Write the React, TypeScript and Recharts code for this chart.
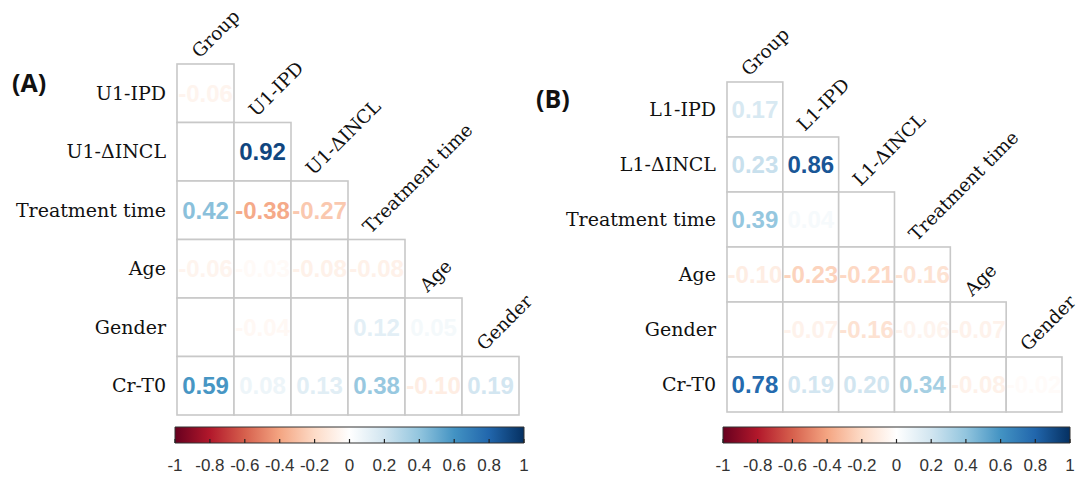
import React from "react";
import {
  ScatterChart,
  Scatter,
  XAxis,
  YAxis,
  BarChart,
  Bar,
} from "recharts";

// panel A
const rowsA = ["U1-IPD", "U1-ΔINCL", "Treatment time", "Age", "Gender", "Cr-T0"];
const colsA = ["Group", "U1-IPD", "U1-ΔINCL", "Treatment time", "Age", "Gender"];
const valuesA: (number | null)[][] = [
  [-0.06],
  [null, 0.92],
  [0.42, -0.38, -0.27],
  [-0.06, -0.03, -0.08, -0.08],
  [null, -0.04, null, 0.12, 0.05],
  [0.59, 0.08, 0.13, 0.38, -0.1, 0.19],
];

// panel B
const rowsB = ["L1-IPD", "L1-ΔINCL", "Treatment time", "Age", "Gender", "Cr-T0"];
const colsB = ["Group", "L1-IPD", "L1-ΔINCL", "Treatment time", "Age", "Gender"];
const valuesB: (number | null)[][] = [
  [0.17],
  [0.23, 0.86],
  [0.39, 0.04, null],
  [-0.1, -0.23, -0.21, -0.16],
  [null, -0.07, -0.16, -0.06, -0.07],
  [0.78, 0.19, 0.2, 0.34, -0.08, -0.02],
];

const legendTicks = [-1, -0.8, -0.6, -0.4, -0.2, 0, 0.2, 0.4, 0.6, 0.8, 1];
const palette = [
  "#67001F", "#B2182B", "#D6604D", "#F4A582", "#FDDBC7", "#FFFFFF",
  "#D1E5F0", "#92C5DE", "#4393C3", "#2166AC", "#053061",
];

const hexToRgb = (h: string) => [
  parseInt(h.slice(1, 3), 16),
  parseInt(h.slice(3, 5), 16),
  parseInt(h.slice(5, 7), 16),
];

const colorFor = (v: number) => {
  const t = ((v + 1) / 2) * (palette.length - 1);
  const i = Math.min(Math.floor(t), palette.length - 2);
  const f = t - i;
  const a = hexToRgb(palette[i]);
  const b = hexToRgb(palette[i + 1]);
  const c = a.map((x, k) => Math.round(x + (b[k] - x) * f));
  return `rgb(${c[0]},${c[1]},${c[2]})`;
};

const toCells = (values: (number | null)[][]) =>
  values.flatMap((row, r) => row.map((v, c) => ({ x: c, y: r, v })));

const serif = "DejaVu Serif";
const sans = "Liberation Sans";

type PanelProps = {
  rows: string[];
  cols: string[];
  values: (number | null)[][];
  width: number;
  height: number;
  top: number;
  left: number;
  right: number;
  bottom: number;
};

const Matrix = ({ rows, cols, values, width, height, top, left, right, bottom }: PanelProps) => {
  const cellW = (width - left - right) / cols.length;
  const cellH = (height - top - bottom) / rows.length;
  const data = toCells(values);

  const cellShape = (props: any) => {
    const { cx, cy, payload } = props;
    return (
      <g>
        <rect
          x={cx - cellW / 2}
          y={cy - cellH / 2}
          width={cellW}
          height={cellH}
          fill="#fff"
          stroke="#c8c8c8"
          strokeWidth={1.6}
        />
        {payload.v !== null && (
          <text
            x={cx}
            y={cy}
            dy="0.36em"
            textAnchor="middle"
            fontFamily={sans}
            fontWeight="bold"
            fontSize={24}
            fill={colorFor(payload.v)}
          >
            {payload.v.toFixed(2)}
          </text>
        )}
      </g>
    );
  };

  const colTick = (props: any) => {
    const { x, y, payload } = props;
    const ty = y + payload.value * cellH - 5;
    const tx = x - 6;
    return (
      <text
        x={tx}
        y={ty}
        transform={`rotate(-45 ${tx} ${ty})`}
        textAnchor="start"
        fontFamily={serif}
        fontSize={18.5}
        fill="#111"
      >
        {cols[payload.value]}
      </text>
    );
  };

  return (
    <ScatterChart
      width={width}
      height={height}
      margin={{ top: 0, right, bottom, left: 0 }}
      style={{ overflow: "visible" }}
    >
      <XAxis
        xAxisId={0}
        type="number"
        dataKey="x"
        orientation="top"
        domain={[-0.5, cols.length - 0.5]}
        ticks={cols.map((_, i) => i)}
        height={top}
        axisLine={false}
        tickLine={false}
        tickSize={0}
        tickMargin={0}
        tick={colTick}
        interval={0}
      />
      <YAxis
        type="number"
        dataKey="y"
        reversed
        domain={[-0.5, rows.length - 0.5]}
        ticks={rows.map((_, i) => i)}
        width={left}
        axisLine={false}
        tickLine={false}
        tickSize={0}
        tickMargin={11}
        interval={0}
        tickFormatter={(i: number) => rows[i]}
        tick={{ fontFamily: serif, fontSize: 19, fill: "#111" }}
      />
      <Scatter data={data} shape={cellShape} isAnimationActive={false} />
    </ScatterChart>
  );
};

const ColorBar = ({ id, width }: { id: string; width: number }) => {
  const tick = (props: any) => {
    const { x, y, payload } = props;
    return (
      <g>
        <line x1={x} x2={x} y1={y - 4} y2={y} stroke="#222" strokeWidth={1.2} />
        <text
          x={x}
          y={y + 28}
          textAnchor="middle"
          fontFamily={sans}
          fontSize={17}
          fill="#333"
        >
          {payload.value}
        </text>
      </g>
    );
  };
  return (
    <BarChart
      width={width}
      height={60}
      layout="vertical"
      data={[{ name: "r", range: [-1, 1] }]}
      margin={{ top: 7, right: 16, bottom: 0, left: 15 }}
      barCategoryGap={0}
    >
      <defs>
        <linearGradient id={id} x1="0" x2="1" y1="0" y2="0">
          {palette.map((c, i) => (
            <stop key={i} offset={i / (palette.length - 1)} stopColor={c} />
          ))}
        </linearGradient>
      </defs>
      <XAxis
        type="number"
        domain={[-1, 1]}
        ticks={legendTicks}
        interval={0}
        height={37}
        axisLine={false}
        tickLine={false}
        tickSize={0}
        tickMargin={0}
        tick={tick}
      />
      <YAxis type="category" dataKey="name" hide />
      <Bar
        dataKey="range"
        fill={`url(#${id})`}
        stroke="#333"
        strokeWidth={1}
        isAnimationActive={false}
      />
    </BarChart>
  );
};

export default function App() {
  return (
    <div
      style={{
        position: "absolute",
        left: 0,
        top: 0,
        width: 1080,
        height: 480,
        background: "#fff",
        overflow: "hidden",
      }}
    >
      <div style={{ position: "absolute", left: 0, top: 0 }}>
        <Matrix
          rows={rowsA}
          cols={colsA}
          values={valuesA}
          width={540}
          height={420}
          top={64}
          left={177}
          right={21}
          bottom={5}
        />
      </div>
      <div style={{ position: "absolute", left: 550, top: 0 }}>
        <Matrix
          rows={rowsB}
          cols={colsB}
          values={valuesB}
          width={530}
          height={420}
          top={82}
          left={177}
          right={18}
          bottom={8}
        />
      </div>
      <div style={{ position: "absolute", left: 160, top: 420 }}>
        <ColorBar id="gradA" width={380} />
      </div>
      <div style={{ position: "absolute", left: 708, top: 420 }}>
        <ColorBar id="gradB" width={378} />
      </div>
      <div
        style={{
          position: "absolute",
          left: 12,
          top: 65,
          fontFamily: "Open Sans",
          fontWeight: 700,
          fontSize: 25,
          color: "#111",
        }}
      >
        (A)
      </div>
      <div
        style={{
          position: "absolute",
          left: 536,
          top: 81,
          fontFamily: "Open Sans",
          fontWeight: 700,
          fontSize: 25,
          color: "#111",
        }}
      >
        (B)
      </div>
    </div>
  );
}
